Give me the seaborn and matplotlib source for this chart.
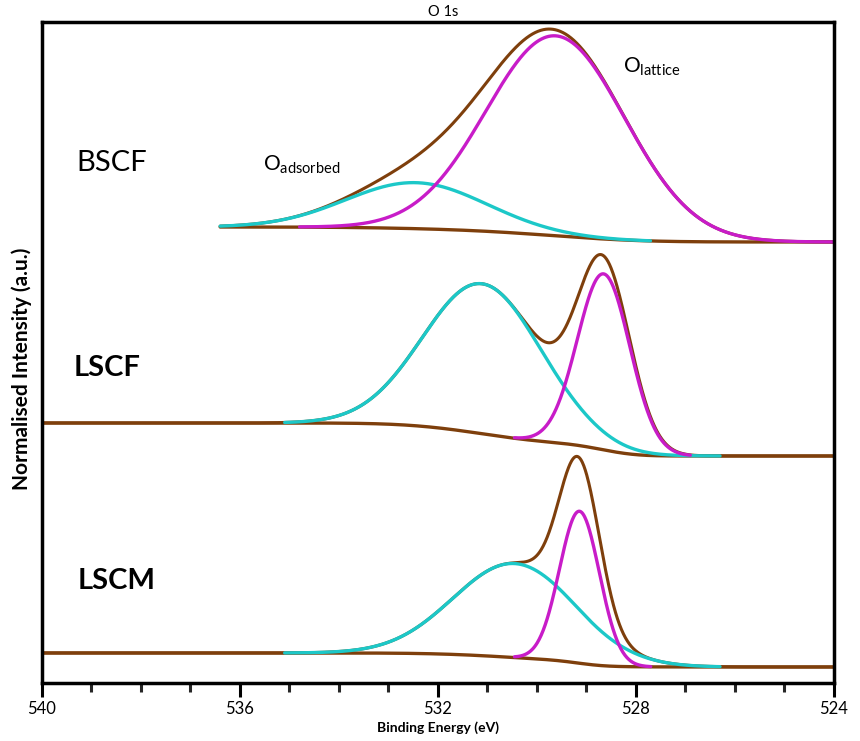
import numpy as np
import pandas as pd
import matplotlib
matplotlib.use("Agg")
import matplotlib.pyplot as plt
import seaborn as sns
from matplotlib.ticker import MultipleLocator

# ---- data ----
samples = ["BSCF", "LSCF", "LSCM"]
sample_bold = [False, True, True]
energy_start = [536.4, 540.0, 540.0]
energy_end = [524.0, 524.0, 524.0]

ads_center = [532.45, 531.10, 530.45]   # O adsorbed peak (eV)
ads_height = [46, 150, 94]
ads_fwhm = [3.3, 2.8, 2.9]
ads_start = [536.4, 535.1, 535.1]
ads_end = [527.7, 526.3, 526.3]

lat_center = [529.62, 528.65, 529.14]   # O lattice peak (eV)
lat_height = [200, 176, 152]
lat_fwhm = [3.3, 1.25, 0.95]
lat_start = [534.8, 530.46, 530.46]
lat_end = [524.0, 526.9, 527.7]

bg_high = [456, 260, 30]   # background level, high-BE side (offset stack)
bg_low = [441, 227, 16]    # background level, low-BE side

x_major = [540, 536, 532, 528, 524]

BROWN = "#7E3F0C"
CYAN = "#1CC8C8"
MAGENTA = "#C81CC8"


def gauss(e, c, h, w):
    return h * np.exp(-4 * np.log(2) * (e - c) ** 2 / w ** 2)


rows = []
for i, s in enumerate(samples):
    e = np.linspace(energy_start[i], energy_end[i], 1600)
    ads = gauss(e, ads_center[i], ads_height[i], ads_fwhm[i])
    lat = gauss(e, lat_center[i], lat_height[i], lat_fwhm[i])
    p = ads + lat
    # Shirley-type background: cumulative area from the low-BE side
    cum = np.concatenate([[0], np.cumsum((p[::-1][1:] + p[::-1][:-1]) / 2)])[::-1]
    frac = cum / cum[0]
    bg = bg_low[i] + (bg_high[i] - bg_low[i]) * frac
    for comp, y, lo, hi in [
        ("background", bg, energy_end[i], energy_start[i]),
        ("envelope", bg + p, energy_end[i], energy_start[i]),
        ("adsorbed", bg + ads, ads_end[i], ads_start[i]),
        ("lattice", bg + lat, lat_end[i], lat_start[i]),
    ]:
        m = (e >= lo - 1e-9) & (e <= hi + 1e-9)
        rows.append(pd.DataFrame({"energy": e[m], "intensity": y[m],
                                  "sample": s, "component": comp}))
df = pd.concat(rows, ignore_index=True)

sns.set_theme(style="white")
plt.rcParams["font.family"] = ["Lato", "DejaVu Sans"]
plt.rcParams["mathtext.fontset"] = "custom"
plt.rcParams["mathtext.rm"] = "Lato"
plt.rcParams["text.color"] = "black"

fig = plt.figure(figsize=(8.6, 7.41), dpi=100)
ax = fig.add_axes([0.0488, 0.0783, 0.9209, 0.892])

styles = {"background": (BROWN, 2.4), "envelope": (BROWN, 2.2),
          "adsorbed": (CYAN, 2.4), "lattice": (MAGENTA, 2.4)}
for s in samples:
    for comp in ["background", "envelope", "adsorbed", "lattice"]:
        d = df[(df["sample"] == s) & (df["component"] == comp)]
        c, lw = styles[comp]
        sns.lineplot(data=d, x="energy", y="intensity", color=c, lw=lw,
                     estimator=None, sort=False, legend=False, ax=ax)

ax.set_xlim(540, 524)
ax.set_ylim(0, 661)
ax.set_xticks(x_major)
ax.set_xticklabels([str(v) for v in x_major])
ax.xaxis.set_minor_locator(MultipleLocator(1))
ax.set_yticks([])
ax.tick_params(axis="x", which="major", direction="out", length=10, width=2.2,
               labelsize=12, colors="black", pad=3, bottom=True)
ax.tick_params(axis="x", which="minor", direction="out", length=6.5, width=2.2,
               bottom=True)
for sp in ax.spines.values():
    sp.set_visible(True)
    sp.set_color("black")
    sp.set_linewidth(2.5)

ax.set_xlabel("Binding Energy (eV)", fontsize=10, fontweight="bold",
              color="black", labelpad=3)
ax.set_ylabel("Normalised Intensity (a.u.)", fontsize=15, fontweight="bold",
              color="black")
ax.yaxis.set_label_coords(-0.013, 0.475)

ax.text(0.506, 1.004, "O 1s", transform=ax.transAxes, ha="center",
        va="bottom", fontsize=10.5, color="black")

label_x = [539.3, 539.37, 539.27]
label_y = [520, 315, 102]
for i, s in enumerate(samples):
    ax.text(label_x[i], label_y[i], s, fontsize=21,
            fontweight="bold" if sample_bold[i] else "normal",
            ha="left", va="center", color="black")

ax.text(535.54, 513, r"O$_{\mathregular{adsorbed}}$", fontsize=15,
        ha="left", va="baseline", color="black")
ax.text(528.26, 611, r"O$_{\mathregular{lattice}}$", fontsize=15,
        ha="left", va="baseline", color="black")

fig.savefig("out.png", dpi=100)
